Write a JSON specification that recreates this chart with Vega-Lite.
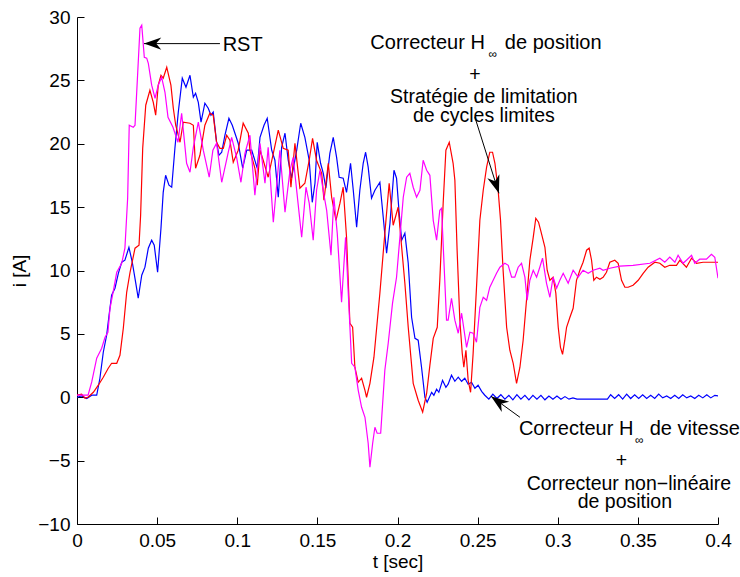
{
  "$schema": "https://vega.github.io/schema/vega-lite/v6.json",
  "width": 641,
  "height": 507,
  "autosize": {"type": "none"},
  "padding": {"left": 77, "top": 17, "right": 22, "bottom": 53},
  "background": "white",
  "config": {
    "view": {"stroke": null},
    "font": "Liberation Sans",
    "axis": {
      "grid": false,
      "domainColor": "black",
      "tickColor": "black",
      "labelColor": "black",
      "titleColor": "black",
      "labelFont": "Liberation Sans",
      "titleFont": "Liberation Sans",
      "labelFontSize": 19,
      "titleFontSize": 19,
      "titleFontWeight": "normal",
      "tickSize": -7,
      "labelFlush": false,
      "labelOverlap": false
    }
  },
  "encoding": {
    "x": {"field": "t", "type": "quantitative", "scale": {"domain": [0, 0.4], "nice": false, "zero": false},
      "axis": {"values": [0, 0.05, 0.1, 0.15, 0.2, 0.25, 0.3, 0.35, 0.4], "format": ".2~f", "title": "t [sec]", "labelPadding": 14, "titlePadding": 2}},
    "y": {"field": "i", "type": "quantitative", "scale": {"domain": [-10, 30], "nice": false, "zero": false},
      "axis": {"values": [-10, -5, 0, 5, 10, 15, 20, 25, 30], "format": "d", "title": "i [A]", "labelPadding": 14, "titlePadding": 8}}
  },
  "layer": [
    {
      "data": {"values": [
        {"t":0,"i":0},{"t":0.0029,"i":0.10},{"t":0.0061,"i":-0.10},{"t":0.0092,"i":0.16},{"t":0.0123,"i":0.16},{"t":0.0143,"i":1.50},{"t":0.0164,"i":3.55},{"t":0.0185,"i":4.89},{"t":0.0200,"i":6.47},{"t":0.0216,"i":8.05},{"t":0.0237,"i":8.60},{"t":0.0258,"i":9.78},{"t":0.0279,"i":10.65},{"t":0.0299,"i":10.81},{"t":0.0324,"i":11.83},{"t":0.0345,"i":10.65},{"t":0.0366,"i":9.07},{"t":0.0382,"i":7.81},{"t":0.0404,"i":9.63},{"t":0.0424,"i":10.26},{"t":0.0445,"i":11.76},{"t":0.0466,"i":12.39},{"t":0.0482,"i":11.99},{"t":0.0503,"i":9.86},{"t":0.0524,"i":13.33},{"t":0.0538,"i":16.17},{"t":0.0553,"i":17.51},{"t":0.0574,"i":16.73},{"t":0.0591,"i":16.57},{"t":0.0611,"i":19.64},{"t":0.0632,"i":22.49},{"t":0.0657,"i":25.17},{"t":0.0680,"i":24.46},{"t":0.0705,"i":25.40},{"t":0.0726,"i":23.67},{"t":0.0740,"i":23.98},{"t":0.0757,"i":23.27},{"t":0.0774,"i":21.70},{"t":0.0798,"i":23.20},{"t":0.0819,"i":22.80},{"t":0.0836,"i":22.25},{"t":0.0850,"i":22.49},{"t":0.0871,"i":20.12},{"t":0.0886,"i":19.09},{"t":0.0903,"i":19.33},{"t":0.0923,"i":20.67},{"t":0.0948,"i":22.01},{"t":0.0969,"i":21.46},{"t":0.0996,"i":20.43},{"t":0.1006,"i":20.04},{"t":0.1034,"i":18.07},{"t":0.1059,"i":19.49},{"t":0.1090,"i":19.49},{"t":0.1125,"i":18.07},{"t":0.1142,"i":20.51},{"t":0.1167,"i":21.46},{"t":0.1187,"i":22.01},{"t":0.1215,"i":19.49},{"t":0.1235,"i":18.70},{"t":0.1256,"i":15.78},{"t":0.1277,"i":19.72},{"t":0.1298,"i":20.83},{"t":0.1318,"i":18.70},{"t":0.1339,"i":17.28},{"t":0.1371,"i":19.49},{"t":0.1396,"i":21.62},{"t":0.1422,"i":20.51},{"t":0.1449,"i":18.70},{"t":0.1468,"i":15.38},{"t":0.1485,"i":16.88},{"t":0.1499,"i":20.12},{"t":0.1520,"i":18.46},{"t":0.1537,"i":17.67},{"t":0.1553,"i":16.49},{"t":0.1578,"i":19.25},{"t":0.1599,"i":20.51},{"t":0.1620,"i":18.93},{"t":0.1636,"i":17.36},{"t":0.1661,"i":17.28},{"t":0.1682,"i":16.17},{"t":0.1707,"i":18.46},{"t":0.1724,"i":16.33},{"t":0.1745,"i":13.41},{"t":0.1765,"i":16.33},{"t":0.1786,"i":18.46},{"t":0.1801,"i":19.33},{"t":0.1817,"i":18.15},{"t":0.1838,"i":15.70},{"t":0.1859,"i":16.33},{"t":0.1890,"i":16.96},{"t":0.1911,"i":14.20},{"t":0.1932,"i":11.36},{"t":0.1953,"i":13.73},{"t":0.1978,"i":17.91},{"t":0.1994,"i":17.28},{"t":0.2009,"i":14.75},{"t":0.2026,"i":12.39},{"t":0.2046,"i":12.94},{"t":0.2067,"i":10.57},{"t":0.2088,"i":6.31},{"t":0.2109,"i":4.65},{"t":0.2129,"i":4.50},{"t":0.2150,"i":2.37},{"t":0.2171,"i":0},{"t":0.2185,"i":-0.39},{"t":0.2213,"i":0.39},{"t":0.2227,"i":0.16},{"t":0.2244,"i":0.63},{"t":0.2258,"i":0.39},{"t":0.2281,"i":1.34},{"t":0.2302,"i":0.79},{"t":0.2316,"i":1.03},{"t":0.2337,"i":1.74},{"t":0.2358,"i":1.26},{"t":0.2379,"i":1.58},{"t":0.2400,"i":1.26},{"t":0.2420,"i":1.50},{"t":0.2441,"i":1.03},{"t":0.2462,"i":1.18},{"t":0.2483,"i":0.71},{"t":0.2503,"i":0.95},{"t":0.2525,"i":0.47},{"t":0.2545,"i":0.16},{"t":0.2570,"i":-0.15},{"t":0.2595,"i":0.25},{"t":0.2620,"i":-0.10},{"t":0.2645,"i":0.20},{"t":0.2670,"i":-0.15},{"t":0.2695,"i":0.15},{"t":0.2720,"i":-0.20},{"t":0.2745,"i":0.20},{"t":0.2770,"i":-0.15},{"t":0.2795,"i":0.15},{"t":0.2820,"i":-0.20},{"t":0.2845,"i":0.15},{"t":0.2870,"i":-0.15},{"t":0.2895,"i":0.15},{"t":0.2920,"i":-0.20},{"t":0.2945,"i":0.10},{"t":0.2970,"i":-0.15},{"t":0.2995,"i":0.10},{"t":0.3020,"i":-0.15},{"t":0.3045,"i":0.05},{"t":0.3070,"i":-0.15},{"t":0.3095,"i":-0.05},{"t":0.3120,"i":-0.15},{"t":0.3310,"i":-0.15},{"t":0.3330,"i":0.20},{"t":0.3355,"i":-0.10},{"t":0.3380,"i":0.20},{"t":0.3405,"i":-0.15},{"t":0.3430,"i":0.25},{"t":0.3455,"i":-0.10},{"t":0.3480,"i":0.20},{"t":0.3505,"i":-0.10},{"t":0.3530,"i":0.20},{"t":0.3555,"i":-0.10},{"t":0.3580,"i":0.15},{"t":0.3605,"i":-0.10},{"t":0.3630,"i":0.25},{"t":0.3655,"i":-0.05},{"t":0.3680,"i":0.10},{"t":0.3705,"i":-0.10},{"t":0.3730,"i":0.15},{"t":0.3755,"i":-0.10},{"t":0.3780,"i":0.20},{"t":0.3805,"i":-0.05},{"t":0.3830,"i":0.10},{"t":0.3855,"i":-0.10},{"t":0.3880,"i":0.15},{"t":0.3905,"i":-0.05},{"t":0.3930,"i":0.20},{"t":0.3955,"i":-0.05},{"t":0.3980,"i":0.15},{"t":0.4000,"i":0.10}
      ]},
      "mark": {"type": "line", "color": "#0000ff", "strokeWidth": 1.2, "clip": true}
    },
    {
      "data": {"values": [
        {"t":0,"i":0.16},{"t":0.0029,"i":0.24},{"t":0.0050,"i":-0.08},{"t":0.0070,"i":0.02},{"t":0.0102,"i":0.39},{"t":0.0133,"i":0.95},{"t":0.0164,"i":1.58},{"t":0.0195,"i":2.29},{"t":0.0216,"i":2.68},{"t":0.0248,"i":2.68},{"t":0.0268,"i":3.31},{"t":0.0289,"i":5.44},{"t":0.0310,"i":8.28},{"t":0.0331,"i":9.86},{"t":0.0362,"i":11.76},{"t":0.0387,"i":11.99},{"t":0.0397,"i":14.36},{"t":0.0410,"i":19.64},{"t":0.0429,"i":23.04},{"t":0.0455,"i":24.22},{"t":0.0476,"i":23.27},{"t":0.0491,"i":22.25},{"t":0.0507,"i":24.62},{"t":0.0524,"i":25.40},{"t":0.0538,"i":25.17},{"t":0.0560,"i":26.04},{"t":0.0586,"i":24.62},{"t":0.0601,"i":22.80},{"t":0.0616,"i":21.46},{"t":0.0643,"i":20.12},{"t":0.0663,"i":21.70},{"t":0.0705,"i":21.62},{"t":0.0726,"i":21.46},{"t":0.0740,"i":18.07},{"t":0.0767,"i":19.09},{"t":0.0798,"i":21.46},{"t":0.0829,"i":22.41},{"t":0.0850,"i":22.25},{"t":0.0871,"i":20.12},{"t":0.0892,"i":19.64},{"t":0.0913,"i":19.64},{"t":0.0934,"i":20.67},{"t":0.0954,"i":20.28},{"t":0.0975,"i":18.54},{"t":0.1006,"i":19.49},{"t":0.1037,"i":21.62},{"t":0.1069,"i":20.83},{"t":0.1079,"i":19.49},{"t":0.1110,"i":18.07},{"t":0.1125,"i":16.73},{"t":0.1142,"i":19.49},{"t":0.1162,"i":18.70},{"t":0.1193,"i":17.36},{"t":0.1225,"i":19.25},{"t":0.1256,"i":21.07},{"t":0.1287,"i":19.64},{"t":0.1318,"i":19.49},{"t":0.1335,"i":16.57},{"t":0.1360,"i":20.04},{"t":0.1391,"i":16.49},{"t":0.1422,"i":16.88},{"t":0.1449,"i":18.70},{"t":0.1470,"i":20.43},{"t":0.1495,"i":18.70},{"t":0.1527,"i":17.67},{"t":0.1541,"i":15.54},{"t":0.1568,"i":18.46},{"t":0.1589,"i":15.78},{"t":0.1616,"i":13.96},{"t":0.1641,"i":15.31},{"t":0.1661,"i":16.57},{"t":0.1682,"i":12.62},{"t":0.1703,"i":5.84},{"t":0.1720,"i":5.52},{"t":0.1734,"i":2.37},{"t":0.1755,"i":1.18},{"t":0.1776,"i":1.50},{"t":0.1797,"i":0.55},{"t":0.1807,"i":0.00},{"t":0.1828,"i":1.10},{"t":0.1853,"i":3.16},{"t":0.1890,"i":8.21},{"t":0.1921,"i":12.94},{"t":0.1948,"i":16.88},{"t":0.1973,"i":13.57},{"t":0.2004,"i":14.99},{"t":0.2026,"i":11.83},{"t":0.2046,"i":8.99},{"t":0.2067,"i":5.52},{"t":0.2098,"i":1.10},{"t":0.2129,"i":-0.24},{"t":0.2157,"i":-1.18},{"t":0.2182,"i":0.32},{"t":0.2202,"i":2.52},{"t":0.2223,"i":4.65},{"t":0.2248,"i":5.52},{"t":0.2264,"i":9.23},{"t":0.2285,"i":15.31},{"t":0.2302,"i":19.49},{"t":0.2323,"i":20.12},{"t":0.2347,"i":18.46},{"t":0.2358,"i":17.12},{"t":0.2372,"i":11.60},{"t":0.2389,"i":6.08},{"t":0.2404,"i":3.47},{"t":0.2414,"i":2.37},{"t":0.2427,"i":3.71},{"t":0.2441,"i":1.34},{"t":0.2456,"i":0.39},{"t":0.2472,"i":3.47},{"t":0.2493,"i":8.68},{"t":0.2514,"i":13.96},{"t":0.2535,"i":16.33},{"t":0.2556,"i":18.15},{"t":0.2576,"i":19.33},{"t":0.2593,"i":19.33},{"t":0.2608,"i":18.46},{"t":0.2628,"i":16.33},{"t":0.2643,"i":13.96},{"t":0.2659,"i":10.02},{"t":0.2681,"i":5.52},{"t":0.2701,"i":3.71},{"t":0.2722,"i":2.68},{"t":0.2743,"i":1.10},{"t":0.2764,"i":2.37},{"t":0.2784,"i":4.50},{"t":0.2805,"i":7.65},{"t":0.2826,"i":10.81},{"t":0.2847,"i":12.62},{"t":0.2863,"i":14.12},{"t":0.2880,"i":13.81},{"t":0.2893,"i":13.18},{"t":0.2920,"i":11.83},{"t":0.2934,"i":10.02},{"t":0.2951,"i":9.23},{"t":0.2971,"i":9.47},{"t":0.2988,"i":8.21},{"t":0.3003,"i":5.52},{"t":0.3017,"i":3.94},{"t":0.3030,"i":3.39},{"t":0.3044,"i":4.50},{"t":0.3055,"i":5.52},{"t":0.3076,"i":6.31},{"t":0.3096,"i":7.02},{"t":0.3117,"i":9.23},{"t":0.3138,"i":10.02},{"t":0.3158,"i":10.65},{"t":0.3180,"i":11.60},{"t":0.3196,"i":11.76},{"t":0.3211,"i":10.81},{"t":0.3225,"i":9.23},{"t":0.3242,"i":9.47},{"t":0.3263,"i":9.31},{"t":0.3283,"i":9.47},{"t":0.3304,"i":9.86},{"t":0.3325,"i":10.65},{"t":0.3356,"i":10.81},{"t":0.3377,"i":10.57},{"t":0.3398,"i":9.23},{"t":0.3419,"i":8.68},{"t":0.3439,"i":8.68},{"t":0.3470,"i":8.84},{"t":0.3502,"i":9.23},{"t":0.3533,"i":9.78},{"t":0.3564,"i":10.26},{"t":0.3606,"i":10.65},{"t":0.3637,"i":10.57},{"t":0.3668,"i":10.26},{"t":0.3699,"i":10.41},{"t":0.3741,"i":10.41},{"t":0.3762,"i":10.81},{"t":0.3803,"i":10.26},{"t":0.3835,"i":10.97},{"t":0.3866,"i":10.57},{"t":0.3907,"i":10.65},{"t":0.4000,"i":10.65}
      ]},
      "mark": {"type": "line", "color": "#ff0000", "strokeWidth": 1.2, "clip": true}
    },
    {
      "data": {"values": [
        {"t":0,"i":0.16},{"t":0.0069,"i":0.16},{"t":0.0092,"i":1.21},{"t":0.0123,"i":3.08},{"t":0.0154,"i":3.87},{"t":0.0175,"i":4.73},{"t":0.0193,"i":5.13},{"t":0.0206,"i":7.02},{"t":0.0225,"i":8.28},{"t":0.0248,"i":9.86},{"t":0.0279,"i":10.57},{"t":0.0299,"i":11.76},{"t":0.0316,"i":15.70},{"t":0.0326,"i":21.46},{"t":0.0351,"i":21.30},{"t":0.0362,"i":21.46},{"t":0.0379,"i":25.64},{"t":0.0393,"i":29.11},{"t":0.0404,"i":29.35},{"t":0.0420,"i":26.82},{"t":0.0435,"i":26.75},{"t":0.0445,"i":26.35},{"t":0.0466,"i":24.62},{"t":0.0487,"i":23.59},{"t":0.0507,"i":24.62},{"t":0.0528,"i":25.25},{"t":0.0549,"i":24.06},{"t":0.0568,"i":22.09},{"t":0.0599,"i":21.30},{"t":0.0630,"i":20.12},{"t":0.0653,"i":22.41},{"t":0.0684,"i":18.46},{"t":0.0705,"i":17.75},{"t":0.0726,"i":19.72},{"t":0.0757,"i":21.70},{"t":0.0788,"i":19.49},{"t":0.0825,"i":17.36},{"t":0.0848,"i":19.49},{"t":0.0871,"i":20.04},{"t":0.0903,"i":16.96},{"t":0.0944,"i":19.33},{"t":0.0965,"i":20.51},{"t":0.0996,"i":18.93},{"t":0.1023,"i":16.96},{"t":0.1048,"i":19.25},{"t":0.1079,"i":20.67},{"t":0.1110,"i":15.94},{"t":0.1142,"i":20.04},{"t":0.1173,"i":16.88},{"t":0.1193,"i":19.72},{"t":0.1225,"i":13.81},{"t":0.1256,"i":18.15},{"t":0.1266,"i":19.49},{"t":0.1298,"i":14.60},{"t":0.1329,"i":17.91},{"t":0.1349,"i":18.93},{"t":0.1402,"i":12.62},{"t":0.1429,"i":16.57},{"t":0.1449,"i":15.31},{"t":0.1474,"i":12.39},{"t":0.1495,"i":16.33},{"t":0.1516,"i":17.91},{"t":0.1536,"i":16.33},{"t":0.1558,"i":14.75},{"t":0.1585,"i":11.20},{"t":0.1603,"i":15.78},{"t":0.1624,"i":12.94},{"t":0.1651,"i":7.50},{"t":0.1676,"i":12.62},{"t":0.1714,"i":2.68},{"t":0.1734,"i":2.37},{"t":0.1755,"i":0.55},{"t":0.1776,"i":-0.79},{"t":0.1797,"i":-1.58},{"t":0.1817,"i":-3.63},{"t":0.1828,"i":-5.52},{"t":0.1845,"i":-3.63},{"t":0.1859,"i":-2.37},{"t":0.1873,"i":-2.84},{"t":0.1895,"i":-2.84},{"t":0.1921,"i":2.13},{"t":0.1942,"i":4.26},{"t":0.1969,"i":7.42},{"t":0.1994,"i":9.47},{"t":0.2015,"i":12.62},{"t":0.2036,"i":15.78},{"t":0.2057,"i":17.36},{"t":0.2077,"i":17.67},{"t":0.2098,"i":16.57},{"t":0.2119,"i":15.78},{"t":0.2140,"i":16.33},{"t":0.2160,"i":18.70},{"t":0.2182,"i":17.91},{"t":0.2202,"i":17.51},{"t":0.2223,"i":13.96},{"t":0.2244,"i":12.39},{"t":0.2264,"i":14.75},{"t":0.2275,"i":14.91},{"t":0.2306,"i":6.08},{"t":0.2316,"i":6.08},{"t":0.2337,"i":7.81},{"t":0.2358,"i":6.08},{"t":0.2379,"i":5.05},{"t":0.2400,"i":6.63},{"t":0.2431,"i":3.94},{"t":0.2452,"i":5.13},{"t":0.2472,"i":5.05},{"t":0.2493,"i":4.34},{"t":0.2514,"i":7.10},{"t":0.2535,"i":7.89},{"t":0.2556,"i":7.65},{"t":0.2576,"i":8.68},{"t":0.2597,"i":9.23},{"t":0.2618,"i":9.78},{"t":0.2639,"i":10.26},{"t":0.2670,"i":10.57},{"t":0.2691,"i":10.41},{"t":0.2712,"i":9.47},{"t":0.2732,"i":9.47},{"t":0.2753,"i":10.26},{"t":0.2774,"i":10.57},{"t":0.2795,"i":9.47},{"t":0.2809,"i":7.65},{"t":0.2826,"i":9.23},{"t":0.2847,"i":10.02},{"t":0.2868,"i":9.47},{"t":0.2888,"i":10.26},{"t":0.2905,"i":10.97},{"t":0.2930,"i":8.99},{"t":0.2951,"i":7.89},{"t":0.2971,"i":9.47},{"t":0.2993,"i":8.60},{"t":0.3013,"i":9.23},{"t":0.3034,"i":9.78},{"t":0.3065,"i":8.99},{"t":0.3096,"i":10.02},{"t":0.3127,"i":9.47},{"t":0.3158,"i":10.02},{"t":0.3190,"i":9.78},{"t":0.3221,"i":10.02},{"t":0.3263,"i":10.18},{"t":0.3283,"i":10.02},{"t":0.3325,"i":10.18},{"t":0.3387,"i":10.34},{"t":0.3470,"i":10.41},{"t":0.3575,"i":10.57},{"t":0.3637,"i":10.97},{"t":0.3668,"i":10.65},{"t":0.3699,"i":11.05},{"t":0.3731,"i":10.65},{"t":0.3751,"i":11.20},{"t":0.3782,"i":10.57},{"t":0.3803,"i":10.81},{"t":0.3835,"i":11.20},{"t":0.3855,"i":10.57},{"t":0.3886,"i":10.89},{"t":0.3928,"i":10.89},{"t":0.3959,"i":11.28},{"t":0.3980,"i":11.05},{"t":0.4000,"i":9.39}
      ]},
      "mark": {"type": "line", "color": "#ff00ff", "strokeWidth": 1.2, "clip": true}
    },
    {
      "data": {"values": [
        {"t": 0.0892, "i": 27.9, "t2": 0.0418, "i2": 27.9},
        {"t": 0.2483, "i": 22.09, "t2": 0.2633, "i2": 16.09},
        {"t": 0.2764, "i": -1.58, "t2": 0.2583, "i2": 0.08}
      ]},
      "mark": {"type": "rule", "color": "black", "strokeWidth": 1},
      "encoding": {"x2": {"field": "t2"}, "y2": {"field": "i2"}}
    },
    {
      "data": {"values": [{"t": 0.0418, "i": 27.9}]},
      "mark": {"type": "point", "shape": "M0,0 L-2,-0.7 L-1.4,0 L-2,0.7 Z", "size": 300, "filled": true, "color": "black", "opacity": 1, "angle": 180}
    },
    {
      "data": {"values": [{"t": 0.2633, "i": 16.09}]},
      "mark": {"type": "point", "shape": "M0,0 L-2,-0.7 L-1.4,0 L-2,0.7 Z", "size": 324, "filled": true, "color": "black", "opacity": 1, "angle": 72}
    },
    {
      "data": {"values": [{"t": 0.2583, "i": 0.08}]},
      "mark": {"type": "point", "shape": "M0,0 L-2,-0.7 L-1.4,0 L-2,0.7 Z", "size": 324, "filled": true, "color": "black", "opacity": 1, "angle": 216}
    },
    {
      "data": {"values": [
        {"t": 0.0909, "i": 27.3, "label": "RST"},
        {"t": 0.2670, "i": 27.46, "label": "de position"},
        {"t": 0.3574, "i": -3.0, "label": "de vitesse"}
      ]},
      "mark": {"type": "text", "align": "left", "baseline": "alphabetic", "fontSize": 20, "font": "Liberation Sans", "color": "black"},
      "encoding": {"text": {"field": "label"}}
    },
    {
      "data": {"values": [
        {"t": 0.2545, "i": 27.46, "label": "Correcteur H"},
        {"t": 0.3472, "i": -3.0, "label": "Correcteur H"}
      ]},
      "mark": {"type": "text", "align": "right", "baseline": "alphabetic", "fontSize": 20, "font": "Liberation Sans", "color": "black"},
      "encoding": {"text": {"field": "label"}}
    },
    {
      "data": {"values": [
        {"t": 0.2595, "i": 26.75, "label": "∞"},
        {"t": 0.3508, "i": -3.71, "label": "∞"}
      ]},
      "mark": {"type": "text", "align": "center", "baseline": "alphabetic", "fontSize": 12, "font": "Liberation Sans", "color": "black"},
      "encoding": {"text": {"field": "label"}}
    },
    {
      "data": {"values": [
        {"t": 0.2483, "i": 24.99, "label": "+"},
        {"t": 0.2539, "i": 23.24, "label": "Stratégie de limitation"},
        {"t": 0.2539, "i": 21.72, "label": "de cycles limites"},
        {"t": 0.3398, "i": -5.52, "label": "+"},
        {"t": 0.3444, "i": -7.34, "label": "Correcteur non−linéaire"},
        {"t": 0.3419, "i": -8.76, "label": "de position"}
      ]},
      "mark": {"type": "text", "align": "center", "baseline": "alphabetic", "fontSize": 19.5, "font": "Liberation Sans", "color": "black"},
      "encoding": {"text": {"field": "label"}}
    }
  ]
}
